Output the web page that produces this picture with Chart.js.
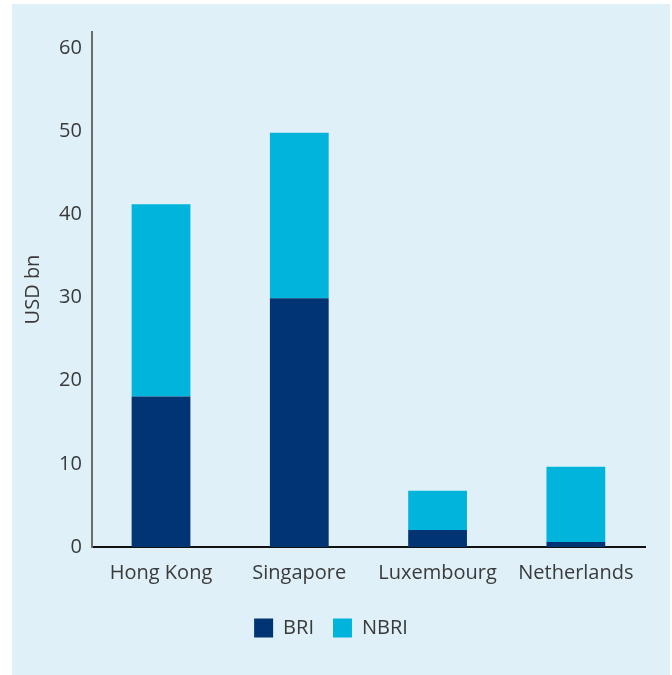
<!DOCTYPE html>
<html>
<head>
<meta charset="utf-8">
<script src="https://cdn.jsdelivr.net/npm/chart.js@4"></script>
<style>
    body { margin: 0; background: #ffffff; }
    #panel {
        position: absolute; left: 12px; top: 4px;
        width: 658px; height: 671px;
        background: #dff0f8;
    }
</style>
</head>
<body>
<div id="panel"><canvas id="chart" width="658" height="671"></canvas></div>
<script>
// Data
const categories = ['Hong Kong', 'Singapore', 'Luxembourg', 'Netherlands'];
const briValues = [18.1, 29.9, 2.05, 0.6];
const nbriValues = [23.1, 19.9, 4.7, 9.05];
const seriesNames = ['BRI', 'NBRI'];
const seriesColors = ['#003473', '#00b4dc'];
const yTicks = [0, 10, 20, 30, 40, 50, 60];

const font = { family: "'Open Sans', 'Noto Sans', sans-serif", size: 20 };

const ctx = document.getElementById('chart').getContext('2d');
new Chart(ctx, {
    type: 'bar',
    data: {
        labels: categories,
        datasets: [
            { label: seriesNames[0], data: briValues, backgroundColor: seriesColors[0] },
            { label: seriesNames[1], data: nbriValues, backgroundColor: seriesColors[1] }
        ]
    },
    options: {
        responsive: false,
        animation: false,
        layout: { padding: { left: 5, right: 25, top: 28, bottom: 27 } },
        datasets: { bar: { barPercentage: 0.425, categoryPercentage: 1 } },
        scales: {
            x: {
                stacked: true,
                grid: { display: false, drawTicks: false },
                border: { color: '#111', width: 2 },
                ticks: { color: '#3a3a3a', font: font, padding: 14 }
            },
            y: {
                stacked: true,
                min: 0,
                max: 61.9,
                grid: { display: false, drawTicks: false },
                border: { color: '#6b6b6b', width: 2 },
                ticks: { color: '#3a3a3a', font: font, padding: 10 },
                afterBuildTicks: scale => {
                    scale.ticks = yTicks.map(v => ({ value: v }));
                },
                title: { display: true, text: 'USD bn', color: '#3a3a3a', font: font, padding: 4 }
            }
        },
        plugins: {
            tooltip: { enabled: false },
            legend: {
                position: 'bottom',
                labels: {
                    boxWidth: 19, boxHeight: 19, padding: 19,
                    color: '#3a3a3a', font: font
                }
            }
        }
    }
});
</script>
</body>
</html>
